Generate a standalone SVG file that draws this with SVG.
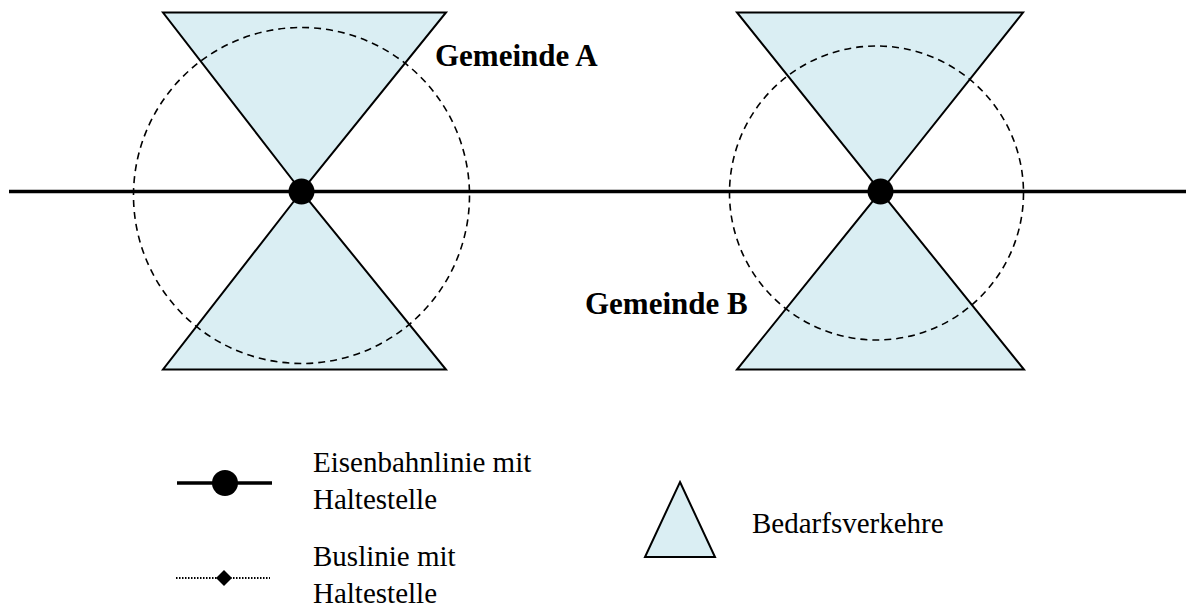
<svg xmlns="http://www.w3.org/2000/svg" width="1189" height="610" viewBox="0 0 1189 610">
<style>
.tri{fill:#daeef3;stroke:#000;stroke-width:2;stroke-linejoin:miter}
.zone{fill:none;stroke:#000;stroke-width:1.6;stroke-dasharray:7 5}
.rail{stroke:#000;stroke-width:3.5;fill:none}
.bus{stroke:#000;stroke-width:2;stroke-dasharray:1.5 1.5;fill:none}
.lbl{font-family:"Liberation Serif","Times New Roman",serif;font-size:31px;font-weight:bold;fill:#000}
.leg{font-family:"Liberation Serif","Times New Roman",serif;font-size:29px;fill:#000}
</style>
<rect width="1189" height="610" fill="#fff"/>
<g id="connectors">
<line class="rail" x1="9" y1="191.5" x2="1186" y2="191.5"/>
</g>
<g id="gemeinde-a">
<polygon class="tri" points="163,12.5 446,12.5 301.5,191.5"/>
<polygon class="tri" points="163,369.5 446,369.5 301.5,191.5"/>
<circle class="zone" cx="301.5" cy="195.5" r="168"/>
<circle cx="301.5" cy="191.5" r="13" fill="#000"/>
<text class="lbl" x="435" y="66">Gemeinde A</text>
</g>
<g id="gemeinde-b">
<polygon class="tri" points="737,12.5 1023,12.5 880.5,191.5"/>
<polygon class="tri" points="737,369.5 1024,369.5 880.5,191.5"/>
<circle class="zone" cx="876.5" cy="193" r="147"/>
<circle cx="880.5" cy="191.5" r="13" fill="#000"/>
<text class="lbl" x="585" y="314">Gemeinde B</text>
</g>
<g id="legend-rail">
<line class="rail" x1="177" y1="483" x2="272" y2="483"/>
<circle cx="225" cy="483" r="13" fill="#000"/>
<text class="leg" x="313" y="472">Eisenbahnlinie mit</text>
<text class="leg" x="313" y="509">Haltestelle</text>
</g>
<g id="legend-bus">
<line class="bus" x1="176" y1="578" x2="270" y2="578"/>
<polygon points="224,570 232,578 224,586 216,578" fill="#000"/>
<text class="leg" x="313" y="566">Buslinie mit</text>
<text class="leg" x="313" y="603">Haltestelle</text>
</g>
<g id="legend-demand">
<polygon class="tri" points="680,482 715,557 645,557"/>
<text class="leg" x="752" y="533">Bedarfsverkehre</text>
</g>
</svg>
